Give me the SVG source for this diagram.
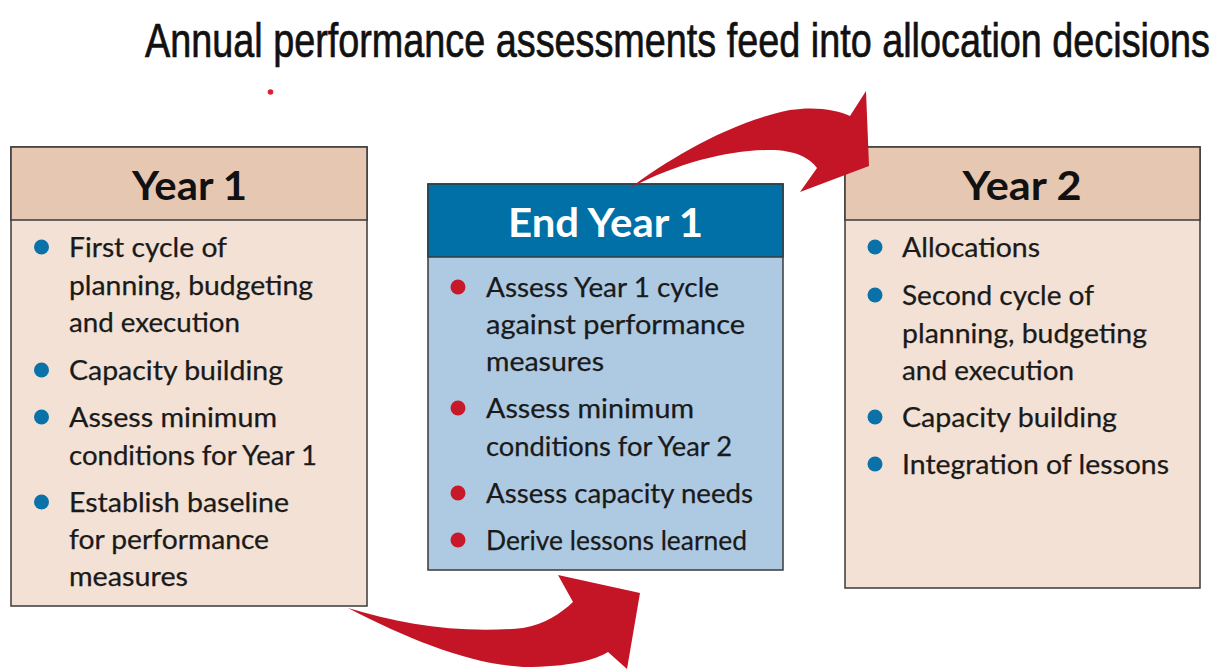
<svg xmlns="http://www.w3.org/2000/svg" width="1222" height="669" viewBox="0 0 1222 669">
  <style>
    .title { font-family: "Liberation Sans", sans-serif; font-size: 49px; fill: #111; stroke: #111; stroke-width: 0.7; }
    .head { font-family: Lato, "Liberation Sans", sans-serif; font-weight: 700; font-size: 41px; text-anchor: middle; }
    .item { font-family: Lato, "Liberation Sans", sans-serif; font-size: 26px; fill: #1a1a1a; stroke: #1a1a1a; stroke-width: 0.25; }
    .frame { stroke: #3a3a3a; stroke-width: 1.5; }
    .warm-head { fill: #e6c7b1; }
    .warm-body { fill: #f2e1d4; }
    .cool-head { fill: #0070a6; }
    .cool-body { fill: #aecae2; }
    .dot-blue { fill: #0a72a8; }
    .dot-red { fill: #c8192b; }
    .arrow { fill: #c31526; }
  </style>

  <rect width="1222" height="669" fill="#ffffff"/>

  <!-- condensed headline: horizontal scale applied to a regular sans -->
  <g transform="translate(145,57) scale(0.775,1)">
    <text class="title" x="0" y="0" textLength="1374" lengthAdjust="spacingAndGlyphs">Annual performance assessments feed into allocation decisions</text>
  </g>
  <circle cx="270.5" cy="92" r="2.8" fill="#e0202e"/>

  <!-- Year 1 -->
  <g id="year1">
    <rect class="frame warm-body" x="11" y="147" width="356" height="459"/>
    <rect class="frame warm-head" x="11" y="147" width="356" height="73"/>
    <text class="head" x="189.5" y="200" fill="#111" textLength="115" lengthAdjust="spacingAndGlyphs">Year 1</text>
    <g class="dot-blue">
      <circle cx="41.5" cy="247" r="7.5"/>
      <circle cx="41.5" cy="370" r="7.5"/>
      <circle cx="41.5" cy="417" r="7.5"/>
      <circle cx="41.5" cy="502" r="7.5"/>
    </g>
    <g class="item">
      <text x="69" y="257" textLength="158" lengthAdjust="spacingAndGlyphs">First cycle of</text>
      <text x="69" y="295" textLength="244" lengthAdjust="spacingAndGlyphs">planning, budgeting</text>
      <text x="69" y="332" textLength="171" lengthAdjust="spacingAndGlyphs">and execution</text>
      <text x="69" y="380" textLength="214" lengthAdjust="spacingAndGlyphs">Capacity building</text>
      <text x="69" y="427" textLength="208" lengthAdjust="spacingAndGlyphs">Assess minimum</text>
      <text x="69" y="465" textLength="248" lengthAdjust="spacingAndGlyphs">conditions for Year 1</text>
      <text x="69" y="512" textLength="220" lengthAdjust="spacingAndGlyphs">Establish baseline</text>
      <text x="69" y="549" textLength="200" lengthAdjust="spacingAndGlyphs">for performance</text>
      <text x="69" y="586" textLength="119" lengthAdjust="spacingAndGlyphs">measures</text>
    </g>
  </g>

  <!-- End Year 1 -->
  <g id="end-year1">
    <rect class="frame cool-body" x="428" y="184" width="355" height="386"/>
    <rect class="frame cool-head" x="428" y="184" width="355" height="73"/>
    <text class="head" x="605.5" y="237" fill="#ffffff" textLength="195" lengthAdjust="spacingAndGlyphs">End Year 1</text>
    <g class="dot-red">
      <circle cx="458" cy="287" r="7.5"/>
      <circle cx="458" cy="408" r="7.5"/>
      <circle cx="458" cy="493" r="7.5"/>
      <circle cx="458" cy="540" r="7.5"/>
    </g>
    <g class="item">
      <text x="486" y="297" textLength="233" lengthAdjust="spacingAndGlyphs">Assess Year 1 cycle</text>
      <text x="486" y="334" textLength="259" lengthAdjust="spacingAndGlyphs">against performance</text>
      <text x="486" y="371" textLength="118" lengthAdjust="spacingAndGlyphs">measures</text>
      <text x="486" y="418" textLength="208" lengthAdjust="spacingAndGlyphs">Assess minimum</text>
      <text x="486" y="456" textLength="246" lengthAdjust="spacingAndGlyphs">conditions for Year 2</text>
      <text x="486" y="503" textLength="267" lengthAdjust="spacingAndGlyphs">Assess capacity needs</text>
      <text x="486" y="550" textLength="261" lengthAdjust="spacingAndGlyphs">Derive lessons learned</text>
    </g>
  </g>

  <!-- Year 2 -->
  <g id="year2">
    <rect class="frame warm-body" x="845" y="147" width="355" height="441"/>
    <rect class="frame warm-head" x="845" y="147" width="355" height="73"/>
    <text class="head" x="1022" y="200" fill="#111" textLength="119" lengthAdjust="spacingAndGlyphs">Year 2</text>
    <g class="dot-blue">
      <circle cx="875" cy="247" r="7.5"/>
      <circle cx="875" cy="295" r="7.5"/>
      <circle cx="875" cy="417" r="7.5"/>
      <circle cx="875" cy="464" r="7.5"/>
    </g>
    <g class="item">
      <text x="902" y="257" textLength="138" lengthAdjust="spacingAndGlyphs">Allocations</text>
      <text x="902" y="305" textLength="192" lengthAdjust="spacingAndGlyphs">Second cycle of</text>
      <text x="902" y="343" textLength="245" lengthAdjust="spacingAndGlyphs">planning, budgeting</text>
      <text x="902" y="380" textLength="172" lengthAdjust="spacingAndGlyphs">and execution</text>
      <text x="902" y="427" textLength="215" lengthAdjust="spacingAndGlyphs">Capacity building</text>
      <text x="902" y="474" textLength="267" lengthAdjust="spacingAndGlyphs">Integration of lessons</text>
    </g>
  </g>

  <!-- Curved block arrows between stages -->
  <g id="connectors" class="arrow">
    <!-- Year 1 to End Year 1 -->
    <path d="M348,608 C400,624 460,634 523,628 C545,624 560,614 573,602 L558,575 L640,593 L627,669 L608,652 C595,660 570,667 523,667 C470,664 410,640 348,608 Z"/>
    <!-- End Year 1 to Year 2 -->
    <path d="M630,188 C670,158 730,122 790,110 C815,106 838,110 850,116 L866,91 L869,166 L800,192 L817,168 C810,158 795,150 770,150 C730,150 680,162 630,188 Z"/>
  </g>
</svg>
